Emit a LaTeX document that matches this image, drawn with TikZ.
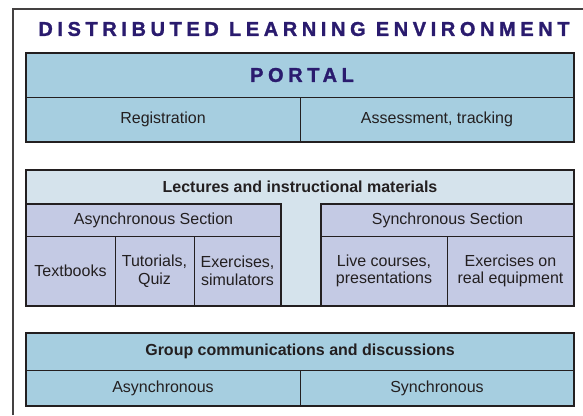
\documentclass[tikz,border=0pt]{standalone}
\usepackage{fontspec}
\setmainfont{Liberation Sans}
\newfontfamily\spacedfont{Liberation Sans}[LetterSpace=23, BoldFeatures={FakeBold=1.3}]
\definecolor{portalblue}{HTML}{A6CEE0}
\definecolor{palebg}{HTML}{D5E3EC}
\definecolor{lav}{HTML}{C4CAE4}
\definecolor{navy}{HTML}{2A1B6E}
\definecolor{ink}{HTML}{231F20}
\tikzset{
  cell/.style={draw=ink, line width=0.9pt, inner sep=0pt, outer sep=0pt, anchor=north west,
    text=ink, align=center, font=\fontsize{16}{17.6}\selectfont},
  boldcell/.style={cell, font=\bfseries\fontsize{16}{17.6}\selectfont},
  heading/.style={text=navy, inner sep=0pt, font=\spacedfont\bfseries\fontsize{20}{21}\selectfont},
  outline/.style={draw=ink, line width=2pt},
  frame/.style={draw=ink!85, line width=1.4pt}
}
\begin{document}
\begin{tikzpicture}[x=1pt,y=-1pt]
\useasboundingbox (0,0) rectangle (583,415);
% outer frame
\coordinate (fa) at (13,415);
\coordinate (fb) at (13,9);
\coordinate (fc) at (583,9);
\draw[frame] (fa) -- (fb) -- (fc);
\node[heading] (title) at (304,29) {DISTRIBUTED LEARNING ENVIRONMENT};

% PORTAL
\node[cell, fill=portalblue, minimum width=548, minimum height=44] (portal) at (26,53) {};
\node[heading] (portaltext) at ([xshift=2pt]portal.center) {PORTAL};
\node[cell, fill=portalblue, minimum width=274, minimum height=45] (reg) at (26,97) {Registration};
\node[cell, fill=portalblue, minimum width=274, minimum height=45] (assess) at (300,97) {Assessment, tracking};
\draw[outline] (portal.north west) rectangle (assess.south east);

% Lectures
\node[cell, fill=palebg, minimum width=548, minimum height=136] (lect) at (26,170) {};
\node[text=ink, inner sep=0pt, font=\bfseries\fontsize{16}{17.6}\selectfont] (lecttitle) at (300,187) {Lectures and instructional materials};
\node[cell, fill=lav, minimum width=255, minimum height=32] (asynch) at (26,204) {Asynchronous Section};
\node[cell, fill=lav, minimum width=89, minimum height=70] (text) at (26,236) {Textbooks};
\node[cell, fill=lav, minimum width=79, minimum height=70] (tut) at (115,236) {Tutorials,\\Quiz};
\node[cell, fill=lav, minimum width=87, minimum height=70] (exs) at (194,236) {Exercises,\\simulators};
\node[cell, fill=lav, minimum width=253, minimum height=32] (synch) at (321,204) {Synchronous Section};
\node[cell, fill=lav, minimum width=126, minimum height=70] (live) at (321,236) {Live courses,\\presentations};
\node[cell, fill=lav, minimum width=127, minimum height=70] (real) at (447,236) {Exercises on\\real equipment};
\draw[outline] (asynch.north west) rectangle (exs.south east);
\draw[outline] (synch.north west) rectangle (real.south east);
\draw[outline] (lect.north west) rectangle (lect.south east);

% Group
\node[boldcell, fill=portalblue, minimum width=548, minimum height=37] (group) at (26,333) {Group communications and discussions};
\node[cell, fill=portalblue, minimum width=274, minimum height=36] (gasync) at (26,370) {Asynchronous};
\node[cell, fill=portalblue, minimum width=274, minimum height=36] (gsync) at (300,370) {Synchronous};
\draw[outline] (group.north west) rectangle (gsync.south east);
\end{tikzpicture}
\end{document}
